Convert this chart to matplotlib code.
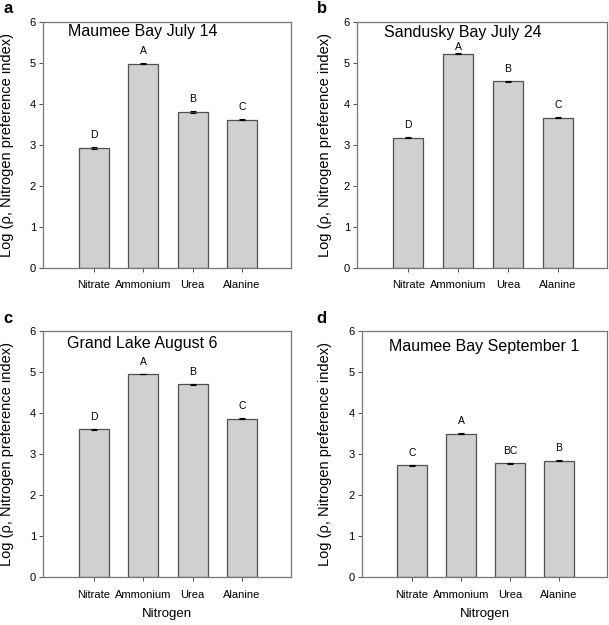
import numpy as np
import matplotlib
matplotlib.use("Agg")
import matplotlib.pyplot as plt

plt.rcParams['font.family'] = ['Liberation Sans', 'DejaVu Sans']

nitrogen = ["Nitrate", "Ammonium", "Urea", "Alanine"]

maumee_jul = [2.92, 4.98, 3.81, 3.62]
maumee_jul_err = [0.02, 0.01, 0.02, 0.02]
maumee_jul_letters = ["D", "A", "B", "C"]

sandusky_jul = [3.18, 5.23, 4.55, 3.67]
sandusky_jul_err = [0.01, 0.01, 0.01, 0.01]
sandusky_jul_letters = ["D", "A", "B", "C"]

grand_aug = [3.60, 4.95, 4.70, 3.86]
grand_aug_err = [0.01, 0.01, 0.01, 0.01]
grand_aug_letters = ["D", "A", "B", "C"]

maumee_sep = [2.72, 3.50, 2.77, 2.84]
maumee_sep_err = [0.02, 0.01, 0.02, 0.02]
maumee_sep_letters = ["C", "A", "BC", "B"]

panels = [
    ("a", "Maumee Bay July 14", maumee_jul, maumee_jul_err, maumee_jul_letters),
    ("b", "Sandusky Bay July 24", sandusky_jul, sandusky_jul_err, sandusky_jul_letters),
    ("c", "Grand Lake August 6", grand_aug, grand_aug_err, grand_aug_letters),
    ("d", "Maumee Bay September 1", maumee_sep, maumee_sep_err, maumee_sep_letters),
]

# axes boxes in figure fractions
boxes = [
    [0.0706, 0.5712, 0.407, 0.3936],
    [0.586, 0.5712, 0.411, 0.3936],
    [0.0706, 0.0768, 0.407, 0.3936],
    [0.594, 0.0768, 0.403, 0.3936],
]
title_pos = [(0.10, 0.96), (0.11, 0.958), (0.097, 0.95), (0.11, 0.935)]
tag_pos = [(0.005, 0.998), (0.520, 0.998), (0.005, 0.502), (0.520, 0.502)]
ylabel_x = [-0.115, -0.098, -0.115, -0.12]

fig = plt.figure(figsize=(6.09, 6.25), dpi=100)
edge = '#505050'

for i, (tag, title, vals, errs, letters) in enumerate(panels):
    ax = fig.add_axes(boxes[i])
    x = np.arange(len(nitrogen))
    ax.bar(x, vals, width=0.61, color='#d0d0d0', edgecolor=edge, linewidth=0.9,
           yerr=errs, error_kw=dict(ecolor='black', elinewidth=0.8, capsize=2.5, capthick=0.8))
    for xi, v, e, lab in zip(x, vals, errs, letters):
        off = 0.17
        if v + e + off > 5.2:
            # squeezed under the panel title, as in the reference
            off = 0.04
        ax.text(xi, v + e + off, lab, ha='center', va='bottom', fontsize=7.5)
    ax.set_xlim(-1.03, 3.99)
    ax.set_ylim(0, 6)
    ax.set_yticks(range(7))
    ax.set_xticks(x)
    ax.set_xticklabels(nitrogen)
    ax.tick_params(labelsize=8, direction='out', length=3, width=0.7, color=edge, pad=2)
    ax.tick_params(axis='x', pad=6)
    for s in ax.spines.values():
        s.set_color('#777777')
        s.set_linewidth(0.9)
    ax.set_ylabel(u"Log (\u03c1, Nitrogen preference index)", fontsize=10.5)
    ax.yaxis.set_label_coords(ylabel_x[i], 0.5)
    if i >= 2:
        ax.set_xlabel("Nitrogen", fontsize=9.5, labelpad=6)
    ax.text(title_pos[i][0], title_pos[i][1], title, transform=ax.transAxes, fontsize=11.5,
            ha='left', va='center')
    fig.text(tag_pos[i][0], tag_pos[i][1], tag, fontsize=12, fontweight='bold', ha='left', va='top')

plt.savefig('out.png', dpi=100)
